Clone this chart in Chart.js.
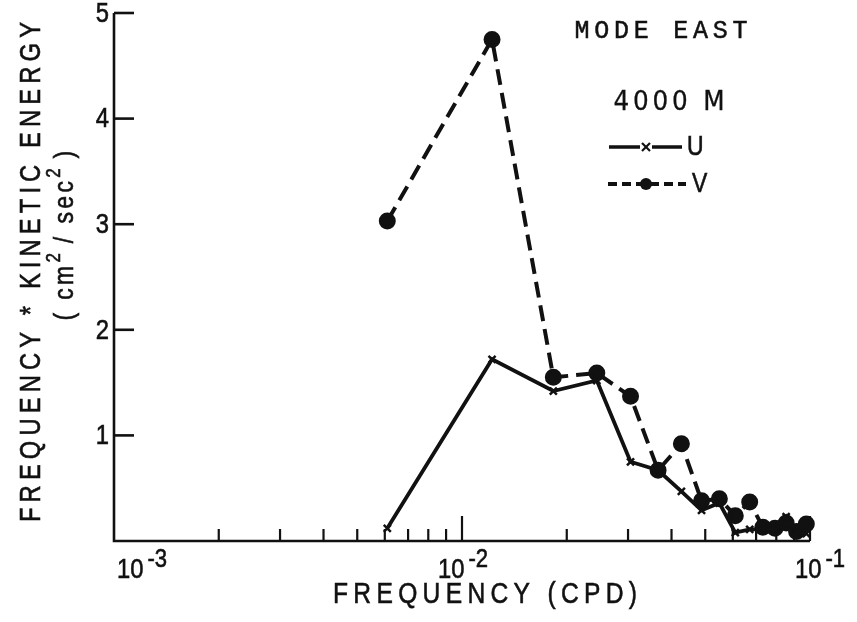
<!DOCTYPE html>
<html>
<head>
<meta charset="utf-8">
<title>Mode East 4000 m kinetic energy spectrum</title>
<script src="https://cdn.jsdelivr.net/npm/chart.js@4.4.1/dist/chart.umd.min.js"></script>
<style>
  html, body { margin: 0; padding: 0; background: #fff; }
  #spectrum { display: block; }
</style>
</head>
<body>
<canvas id="spectrum" width="857" height="622"></canvas>
<script>
// frequency bands (cycles per day) and energy-preserving spectra at 4000 m
const freqCPD = [0.0061, 0.0122, 0.0183, 0.0244, 0.0305, 0.0366, 0.0427, 0.0488,
                 0.0549, 0.0610, 0.0671, 0.0732, 0.0793, 0.0854, 0.0915, 0.0976];
const energyU = [0.12, 1.72, 1.42, 1.52, 0.75, 0.67, 0.47, 0.29,
                 0.36, 0.08, 0.11, 0.11, 0.11, 0.23, 0.08, 0.07];
const energyV = [3.03, 4.75, 1.55, 1.59, 1.37, 0.67, 0.92, 0.38,
                 0.40, 0.24, 0.37, 0.13, 0.12, 0.17, 0.09, 0.16];

const yTickValues = [1, 2, 3, 4, 5];
const decadeValues = [0.001, 0.01, 0.1];
const decadeExponents = ['-3', '-2', '-1'];

const INK = '#111';
const SANS = '"Liberation Sans", Arial, sans-serif';

// text squeezed horizontally (lettering-guide look), with a thin outline for weight
function ink(ctx, text, x, y, sx = 0.85, weight = 0.6) {
    ctx.save();
    ctx.translate(x, y);
    ctx.scale(sx, 1);
    ctx.fillText(text, 0, 0);
    if (weight > 0) {
        ctx.lineWidth = weight;
        ctx.strokeText(text, 0, 0);
    }
    ctx.restore();
}

// draw text centred at cx, stretched out to a given width with letter spacing
function spreadText(ctx, text, cx, cy, width, sx = 0.82, weight = 0.6) {
    ctx.save();
    ctx.translate(cx, cy);
    ctx.scale(sx, 1);
    const target = width / sx;
    ctx.letterSpacing = '0px';
    const raw = ctx.measureText(text).width;
    const gap = (target - raw) / Math.max(1, text.length - 1);
    ctx.letterSpacing = gap + 'px';
    ctx.textAlign = 'left';
    ctx.fillText(text, -target / 2, 0);
    if (weight > 0) {
        ctx.lineWidth = weight;
        ctx.strokeText(text, -target / 2, 0);
    }
    ctx.letterSpacing = '0px';
    ctx.restore();
}

function line(ctx, x1, y1, x2, y2) {
    ctx.beginPath();
    ctx.moveTo(x1, y1);
    ctx.lineTo(x2, y2);
    ctx.stroke();
}

const paperAxes = {
    id: 'paperAxes',
    beforeDatasetsDraw(chart) {
        const { ctx, chartArea: a, scales: { x, y } } = chart;
        ctx.save();
        ctx.strokeStyle = INK;
        ctx.fillStyle = INK;
        ctx.lineWidth = 2.6;
        ctx.lineCap = 'butt';

        // left and bottom axis lines only
        ctx.beginPath();
        ctx.moveTo(a.left, y.getPixelForValue(5));
        ctx.lineTo(a.left, a.bottom);
        ctx.lineTo(a.right, a.bottom);
        ctx.stroke();

        // y ticks point inward
        ctx.font = '28px ' + SANS;
        ctx.textBaseline = 'middle';
        ctx.textAlign = 'right';
        yTickValues.forEach(v => {
            const py = y.getPixelForValue(v);
            ctx.lineWidth = 2.6;
            line(ctx, a.left, py, a.left + 20, py);
            ink(ctx, String(v), a.left - 5, py + 1);
        });

        // x ticks: long at decades, short at 2..9
        ctx.lineWidth = 2.2;
        decadeValues.slice(0, 2).forEach(d => {
            for (let m = 1; m <= 9; m++) {
                const v = d * m;
                if (v <= x.min) continue;
                const px = x.getPixelForValue(v);
                line(ctx, px, a.bottom, px, a.bottom - (m === 1 ? 25 : 12));
            }
        });
        const pEnd = x.getPixelForValue(0.1);
        line(ctx, pEnd, a.bottom, pEnd, a.bottom - 25);

        // decade labels 10^n, "10" starting this far from its tick
        const labelShift = [3, -24, -15];
        ctx.textBaseline = 'alphabetic';
        ctx.textAlign = 'left';
        decadeValues.forEach((d, i) => {
            const left = x.getPixelForValue(d) + labelShift[i];
            ctx.font = '28px ' + SANS;
            const base = ctx.measureText('10').width * 0.85;
            ink(ctx, '10', left, 578);
            ctx.font = '26px ' + SANS;
            ink(ctx, decadeExponents[i], left + base + 4, 567);
        });

        // axis titles
        ctx.textBaseline = 'middle';
        ctx.font = '30px ' + SANS;
        spreadText(ctx, 'FREQUENCY (CPD)', 485, 595, 304);

        ctx.save();
        ctx.translate(32, 272);
        ctx.rotate(-Math.PI / 2);
        ctx.font = '29px ' + SANS;
        spreadText(ctx, 'FREQUENCY * KINETIC ENERGY', 0, 0, 500);
        ctx.restore();

        // units line with superscripts
        ctx.save();
        ctx.translate(64, 234);
        ctx.rotate(-Math.PI / 2);
        const parts = [['( cm', 0], ['2', 1], [' / sec', 0], ['2', 1], [' )', 0]];
        ctx.textAlign = 'left';
        ctx.textBaseline = 'alphabetic';
        const partFont = sup => (sup ? '20px ' : '27px ') + SANS;
        const sx = 0.85;
        let total = 0;
        parts.forEach(([t, sup]) => {
            ctx.font = partFont(sup);
            ctx.letterSpacing = sup ? '0px' : '4px';
            total += ctx.measureText(t).width * sx;
        });
        let cx = -total / 2;
        parts.forEach(([t, sup]) => {
            ctx.font = partFont(sup);
            ctx.letterSpacing = sup ? '0px' : '4px';
            ink(ctx, t, cx, sup ? -4 : 9, sx);
            cx += ctx.measureText(t).width * sx;
        });
        ctx.letterSpacing = '0px';
        ctx.restore();

        ctx.restore();
    },
    afterDraw(chart) {
        const { ctx } = chart;
        ctx.save();
        ctx.fillStyle = INK;
        ctx.strokeStyle = INK;
        ctx.textBaseline = 'middle';

        ctx.font = '25px "Liberation Mono", "DejaVu Sans Mono", monospace';
        spreadText(ctx, 'MODE EAST', 661, 31, 173, 1, 0.5);

        ctx.font = '26px "DejaVu Sans", ' + SANS;
        spreadText(ctx, '4000 M', 669, 103, 111, 0.95, 0.3);

        // U key: solid line with x
        ctx.lineWidth = 3.6;
        line(ctx, 609, 147, 682, 147);
        ctx.clearRect(640, 141, 12, 12);
        ctx.lineWidth = 2.2;
        line(ctx, 642, 143, 650, 151);
        line(ctx, 650, 143, 642, 151);
        ctx.font = '27px ' + SANS;
        ctx.textAlign = 'left';
        ink(ctx, 'U', 687, 148);

        // V key: dashed line with dot
        ctx.lineWidth = 3.8;
        ctx.setLineDash([9, 5]);
        line(ctx, 608, 184, 686, 184);
        ctx.setLineDash([]);
        ctx.beginPath();
        ctx.arc(646, 184, 6, 0, Math.PI * 2);
        ctx.fill();
        ink(ctx, 'V', 692, 185);

        ctx.restore();
    }
};

const ctx = document.getElementById('spectrum').getContext('2d');
const spectrumChart = new Chart(ctx, {
    type: 'line',
    data: {
        datasets: [{
            label: 'U',
            data: freqCPD.map((f, i) => ({ x: f, y: energyU[i] })),
            borderColor: INK,
            borderWidth: 3.8,
            pointStyle: 'crossRot',
            pointRadius: 5,
            pointBorderWidth: 2.5,
            pointBorderColor: INK,
            tension: 0,
            clip: false
        }, {
            label: 'V',
            data: freqCPD.map((f, i) => ({ x: f, y: energyV[i] })),
            borderColor: INK,
            borderWidth: 4,
            borderDash: [16, 8],
            pointStyle: 'circle',
            pointRadius: 6.5,
            pointBackgroundColor: INK,
            pointBorderColor: INK,
            tension: 0,
            clip: false
        }]
    },
    options: {
        responsive: false,
        animation: false,
        layout: { padding: { left: 114, right: 47, top: 13, bottom: 81 } },
        plugins: { legend: { display: false }, tooltip: { enabled: false } },
        scales: {
            x: { type: 'logarithmic', min: 0.001, max: 0.1, display: false },
            y: { type: 'linear', min: 0, max: 5, display: false }
        }
    },
    plugins: [paperAxes]
});
</script>
</body>
</html>
